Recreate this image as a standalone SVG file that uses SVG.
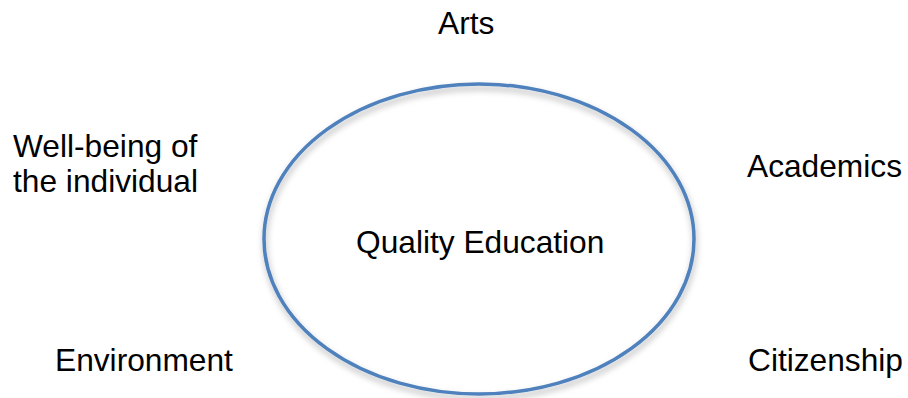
<svg xmlns="http://www.w3.org/2000/svg" width="908" height="398" viewBox="0 0 908 398">
<defs>
<filter id="sh" x="-10%" y="-10%" width="120%" height="125%">
<feDropShadow dx="1" dy="4" stdDeviation="3" flood-color="#000" flood-opacity="0.3"/>
</filter>
</defs>
<style>
text{font-family:"Liberation Sans",Arial,sans-serif;font-size:31.7px;fill:#000}
.ell{fill:none;stroke:#4F81BD;stroke-width:3.5}
</style>
<rect width="908" height="398" fill="#fff"/>
<g id="center">
<ellipse class="ell" cx="479" cy="239" rx="215" ry="155" filter="url(#sh)"/>
<text x="356" y="253">Quality Education</text>
</g>
<g id="arts"><text x="438" y="34">Arts</text></g>
<g id="wellbeing"><text x="13" y="157">Well-being of</text><text x="13" y="192">the individual</text></g>
<g id="academics"><text x="747" y="177">Academics</text></g>
<g id="environment"><text x="55" y="371">Environment</text></g>
<g id="citizenship"><text x="748" y="371">Citizenship</text></g>
<g id="connectors"></g>
</svg>
